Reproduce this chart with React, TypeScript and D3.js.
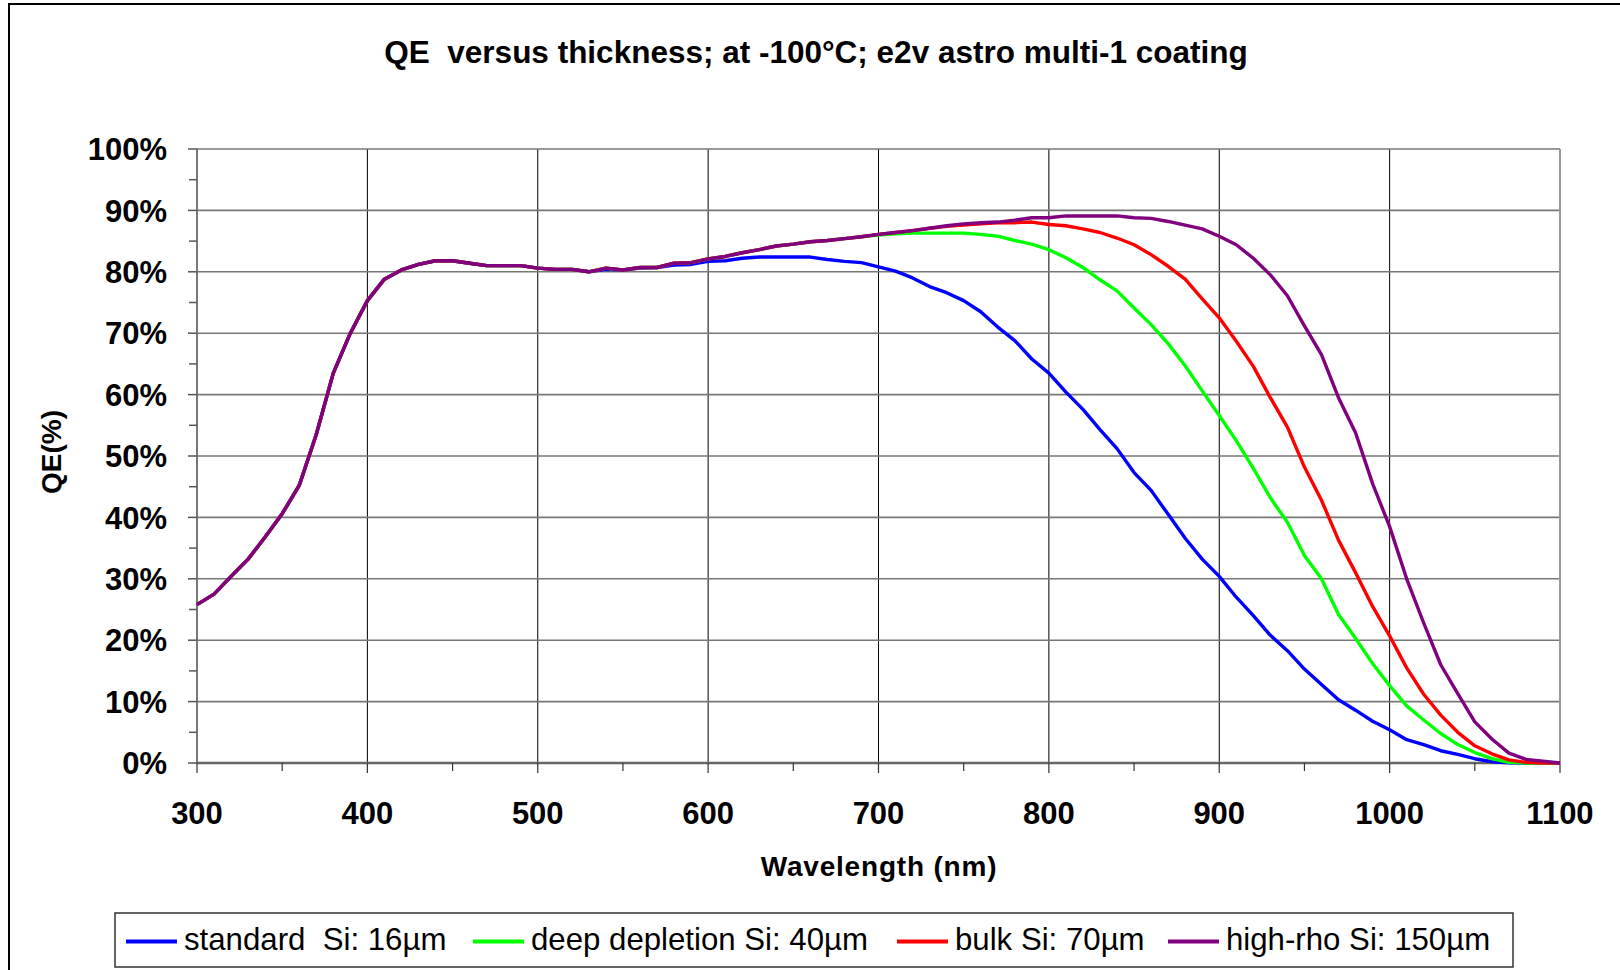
import React from 'react';
import * as d3 from 'd3';

// wavelength in nm, QE in %
const wavelengths = [
  300, 310, 320, 330, 340, 350, 360, 370, 380, 390,
  400, 410, 420, 430, 440, 450, 460, 470, 480, 490,
  500, 510, 520, 530, 540, 550, 560, 570, 580, 590,
  600, 610, 620, 630, 640, 650, 660, 670, 680, 690,
  700, 710, 720, 730, 740, 750, 760, 770, 780, 790,
  800, 810, 820, 830, 840, 850, 860, 870, 880, 890,
  900, 910, 920, 930, 940, 950, 960, 970, 980, 990,
  1000, 1010, 1020, 1030, 1040, 1050, 1060, 1070, 1080, 1090,
  1100,
];

const standardSi = [
  25.8, 27.5, 30.4, 33.2, 36.8, 40.6, 45.2, 53.5, 63.5, 70.0,
  75.3, 78.8, 80.3, 81.2, 81.8, 81.8, 81.4, 81.0, 81.0, 81.0,
  80.6, 80.4, 80.4, 80.0, 80.4, 80.3, 80.6, 80.7, 81.1, 81.2,
  81.7, 81.8, 82.2, 82.4, 82.4, 82.4, 82.4, 82.0, 81.7, 81.5,
  80.8, 80.1, 79.0, 77.6, 76.6, 75.3, 73.5, 71.0, 68.8, 65.8,
  63.5, 60.4, 57.6, 54.3, 51.2, 47.3, 44.4, 40.5, 36.6, 33.2,
  30.4, 27.0, 24.0, 20.8, 18.3, 15.3, 12.8, 10.3, 8.6, 6.8,
  5.4, 3.8, 3.0, 2.0, 1.4, 0.7, 0.2, 0.05, 0, 0,
  0,
];

const deepDepletionSi = [
  25.8, 27.5, 30.4, 33.2, 36.8, 40.6, 45.2, 53.5, 63.5, 70.0,
  75.3, 78.8, 80.3, 81.2, 81.8, 81.8, 81.4, 81.0, 81.0, 81.0,
  80.6, 80.4, 80.4, 80.0, 80.6, 80.3, 80.7, 80.7, 81.4, 81.5,
  82.1, 82.5, 83.1, 83.6, 84.2, 84.5, 84.9, 85.1, 85.4, 85.7,
  86.0, 86.2, 86.3, 86.3, 86.3, 86.3, 86.1, 85.8, 85.1, 84.5,
  83.6, 82.3, 80.7, 78.7, 76.9, 74.1, 71.4, 68.3, 64.7, 60.6,
  56.6, 52.5, 48.0, 43.2, 39.2, 33.8, 30.0, 24.2, 20.3, 16.2,
  12.6, 9.3, 7.0, 4.8, 3.0, 1.7, 0.7, 0.1, 0, 0,
  0,
];

const bulkSi = [
  25.8, 27.5, 30.4, 33.2, 36.8, 40.6, 45.2, 53.5, 63.5, 70.0,
  75.3, 78.8, 80.3, 81.2, 81.8, 81.8, 81.4, 81.0, 81.0, 81.0,
  80.6, 80.4, 80.4, 80.0, 80.6, 80.3, 80.7, 80.7, 81.4, 81.5,
  82.1, 82.5, 83.1, 83.6, 84.2, 84.5, 84.9, 85.1, 85.4, 85.7,
  86.1, 86.4, 86.7, 87.1, 87.4, 87.6, 87.8, 88.0, 88.0, 88.1,
  87.7, 87.5, 87.0, 86.4, 85.5, 84.4, 82.8, 80.9, 78.8, 75.6,
  72.5, 68.7, 64.6, 59.5, 54.7, 48.2, 42.8, 36.3, 31.0, 25.5,
  20.7, 15.5, 11.2, 7.8, 5.0, 2.8, 1.5, 0.5, 0.1, 0,
  0,
];

const highRhoSi = [
  25.8, 27.5, 30.4, 33.2, 36.8, 40.6, 45.2, 53.5, 63.5, 70.0,
  75.3, 78.8, 80.3, 81.2, 81.8, 81.8, 81.4, 81.0, 81.0, 81.0,
  80.6, 80.4, 80.4, 80.0, 80.6, 80.3, 80.7, 80.7, 81.4, 81.5,
  82.1, 82.5, 83.1, 83.6, 84.2, 84.5, 84.9, 85.1, 85.4, 85.7,
  86.1, 86.4, 86.7, 87.1, 87.5, 87.8, 88.0, 88.1, 88.4, 88.8,
  88.8, 89.1, 89.1, 89.1, 89.1, 88.8, 88.7, 88.2, 87.6, 87.0,
  85.8, 84.4, 82.2, 79.5, 76.1, 71.2, 66.5, 59.5, 53.8, 45.5,
  38.5, 30.0, 22.8, 16.0, 11.3, 6.7, 3.9, 1.6, 0.6, 0.3,
  0,
];

const seriesNames = ['standard  Si: 16µm', 'deep depletion Si: 40µm', 'bulk Si: 70µm', 'high-rho Si: 150µm'];
const seriesColors = ['#0000ff', '#00ff00', '#ff0000', '#800080'];
const seriesValues = [standardSi, deepDepletionSi, bulkSi, highRhoSi];

const xTicks = [300, 400, 500, 600, 700, 800, 900, 1000, 1100];
const yTicks = [0, 10, 20, 30, 40, 50, 60, 70, 80, 90, 100];

const W = 1620;
const H = 970;
const margin = { left: 197, right: 60, top: 149, bottom: 207 };
const font = '"Liberation Sans", Arial, sans-serif';

// legend slots (line start)
const legendX = [126, 473, 897, 1168];

const App = () => {
  const x = d3.scaleLinear().domain([300, 1100]).range([margin.left, W - margin.right]);
  const y = d3.scaleLinear().domain([0, 100]).range([H - margin.bottom, margin.top]);
  const [x0, x1] = x.range();
  const [y0, y1] = y.range();

  const line = d3.line<number>()
    .x((_, i) => x(wavelengths[i]))
    .y(d => y(d));

  const xMinor = x.ticks(16).filter(t => !xTicks.includes(t));
  const yMinor = y.ticks(20).filter(t => !yTicks.includes(t));

  return (
    <svg width={W} height={H} style={{ position: 'absolute', left: 0, top: 0, background: '#fff' }}
      fontFamily={font}>
      {/* chart frame */}
      <rect x={9} y={4} width={W + 40} height={H + 40} fill="#fff" stroke="#000" strokeWidth={2} />

      <text x={816} y={63} textAnchor="middle" fontSize={31.5} fontWeight="bold" style={{ whiteSpace: 'pre' }}>
        {'QE  versus thickness; at -100°C; e2v astro multi-1 coating'}
      </text>

      {/* grid */}
      {xTicks.map(t => (
        <line key={'vx' + t} x1={x(t)} x2={x(t)} y1={y1} y2={y0} stroke="#000" strokeWidth={1} />
      ))}
      {yTicks.map(t => (
        <line key={'hy' + t} x1={x0} x2={x1} y1={y(t)} y2={y(t)} stroke="#777" strokeWidth={1.6} />
      ))}
      <line x1={x1} x2={x1} y1={y1} y2={y0} stroke="#999" strokeWidth={2} />

      {/* y axis */}
      <line x1={x0} x2={x0} y1={y1} y2={y0} stroke="#777" strokeWidth={1.6} />
      {yTicks.map(t => (
        <g key={'yt' + t}>
          <line x1={x0 - 9} x2={x0} y1={y(t)} y2={y(t)} stroke="#555" strokeWidth={1.5} />
          <text x={167} y={y(t)} dy="0.36em" textAnchor="end" fontSize={31} fontWeight="bold">{t + '%'}</text>
        </g>
      ))}
      {yMinor.map(t => (
        <line key={'ym' + t} x1={x0 - 8} x2={x0} y1={y(t)} y2={y(t)} stroke="#555" strokeWidth={1.5} />
      ))}

      {/* x axis */}
      <line x1={x0} x2={x1} y1={y0} y2={y0} stroke="#666" strokeWidth={2.5} />
      {xTicks.map(t => (
        <g key={'xt' + t}>
          <line x1={x(t)} x2={x(t)} y1={y0} y2={y0 + 10} stroke="#333" strokeWidth={1.2} />
          <text x={x(t)} y={824} textAnchor="middle" fontSize={31} fontWeight="bold">{t}</text>
        </g>
      ))}
      {xMinor.map(t => (
        <line key={'xm' + t} x1={x(t)} x2={x(t)} y1={y0} y2={y0 + 8} stroke="#333" strokeWidth={1.2} />
      ))}

      <text x={879} y={876} textAnchor="middle" fontSize={28} fontWeight="bold" letterSpacing={0.8}>
        Wavelength (nm)
      </text>
      <text transform={`translate(61,452) rotate(-90)`} textAnchor="middle" fontSize={28} fontWeight="bold">
        QE(%)
      </text>

      {/* curves */}
      {seriesValues.map((vals, i) => (
        <path key={seriesNames[i]} d={line(vals) || ''} fill="none" stroke={seriesColors[i]}
          strokeWidth={3.4} strokeLinejoin="round" />
      ))}

      {/* legend */}
      <rect x={115} y={913} width={1398} height={54} fill="#fff" stroke="#333" strokeWidth={1.5} />
      {seriesNames.map((name, i) => (
        <g key={'lg' + i}>
          <line x1={legendX[i]} x2={legendX[i] + 51} y1={941.5} y2={941.5} stroke={seriesColors[i]} strokeWidth={4} />
          <text x={legendX[i] + 58} y={949.5} fontSize={31.2} style={{ whiteSpace: 'pre' }}>{name}</text>
        </g>
      ))}
    </svg>
  );
};

export default App;
